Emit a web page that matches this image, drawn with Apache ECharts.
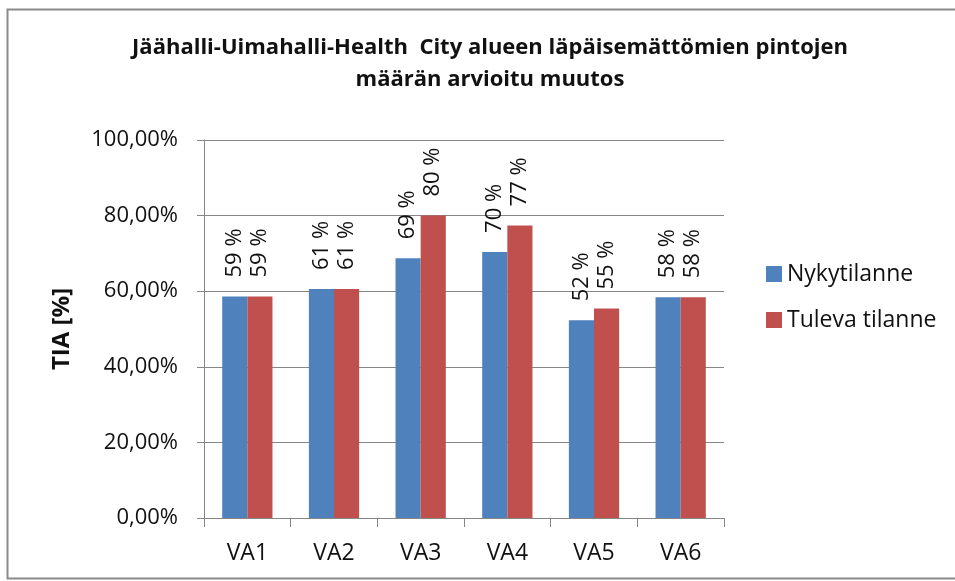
<!DOCTYPE html>
<html>
<head>
<meta charset="utf-8">
<script src="https://cdn.jsdelivr.net/npm/echarts@6/dist/echarts.min.js"></script>
<style>html,body{margin:0;padding:0;background:#fff}#c{width:955px;height:581px}</style>
</head>
<body>
<div id="c"></div>
<script>
const titleText = 'Jäähalli-Uimahalli-Health  City alueen läpäisemättömien pintojen\nmäärän arvioitu muutos';
const yAxisName = 'TIA [%]';
const categories = ['VA1', 'VA2', 'VA3', 'VA4', 'VA5', 'VA6'];
const seriesNames = ['Nykytilanne', 'Tuleva tilanne'];
const nykytilanne = [58.6, 60.6, 68.7, 70.4, 52.3, 58.4];
const tulevaTilanne = [58.6, 60.6, 80.0, 77.4, 55.4, 58.4];
const yTicks = [0, 20, 40, 60, 80, 100];

const FONT = '"Open Sans", sans-serif';
const chart = echarts.init(document.getElementById('c'), null, {renderer: 'canvas'});

function barSeries(name, data, color) {
  return {
    name: name, type: 'bar', data: data,
    barGap: '0%', barCategoryGap: '42%',
    itemStyle: {color: color},
    label: {
      show: true, position: 'top', rotate: 90, distance: 19,
      align: 'left', verticalAlign: 'middle',
      fontFamily: FONT, fontSize: 22, color: '#111',
      formatter: p => Math.round(p.value) + ' %'
    }
  };
}

chart.setOption({
  animation: false,
  backgroundColor: '#fff',
  graphic: [{
    type: 'rect', silent: true,
    shape: {x: 7.5, y: 9.5, width: 960, height: 569},
    style: {fill: 'none', stroke: '#8a8a8a', lineWidth: 2}
  }],
  title: {
    text: titleText, left: 485, top: 27, textAlign: 'center',
    textStyle: {fontFamily: FONT, fontSize: 22, fontWeight: 'bold', color: '#111', lineHeight: 32}
  },
  legend: {
    orient: 'vertical', left: 761, top: 256,
    itemWidth: 16, itemHeight: 16, itemGap: 20,
    icon: 'rect',
    textStyle: {fontFamily: FONT, fontSize: 23, color: '#111', lineHeight: 26},
    data: seriesNames
  },
  grid: {left: 204, right: 231, top: 140, bottom: 63, containLabel: false},
  xAxis: {
    type: 'category', data: categories, boundaryGap: true,
    axisLine: {show: true, lineStyle: {color: '#868686', width: 1}},
    axisTick: {show: true, length: 9, alignWithLabel: false, lineStyle: {color: '#868686'}},
    axisLabel: {fontFamily: FONT, fontSize: 23, color: '#111', margin: 24}
  },
  yAxis: {
    type: 'value', min: yTicks[0], max: yTicks[yTicks.length - 1], interval: 20,
    name: yAxisName, nameLocation: 'middle', nameGap: 130,
    nameTextStyle: {fontFamily: FONT, fontSize: 24, fontWeight: 'bold', color: '#111'},
    axisLine: {show: true, lineStyle: {color: '#868686', width: 1}},
    axisTick: {show: true, length: 7, inside: false, lineStyle: {color: '#868686'}},
    splitLine: {show: true, lineStyle: {color: '#868686', width: 1}},
    axisLabel: {
      fontFamily: FONT, fontSize: 22, color: '#111', margin: 26,
      formatter: v => v.toFixed(2).replace('.', ',') + '%'
    }
  },
  series: [
    barSeries(seriesNames[0], nykytilanne, '#4F81BD'),
    barSeries(seriesNames[1], tulevaTilanne, '#C0504D')
  ]
});
</script>
</body>
</html>
